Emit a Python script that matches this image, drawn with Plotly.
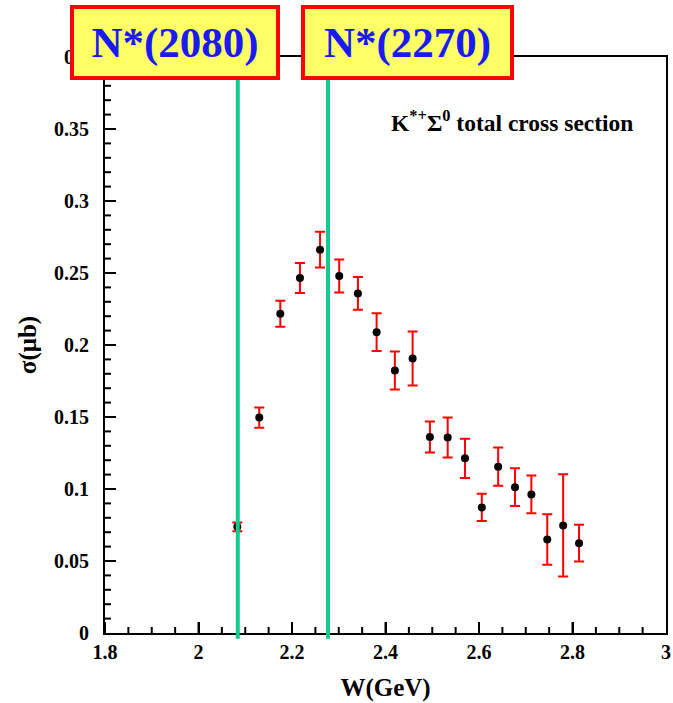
import plotly.graph_objects as go

# Data
W = [2.083, 2.130, 2.175, 2.217, 2.260, 2.301, 2.341, 2.381, 2.420, 2.458,
     2.495, 2.533, 2.570, 2.606, 2.641, 2.677, 2.712, 2.746, 2.780, 2.814]
sigma = [0.0737, 0.1496, 0.2217, 0.2465, 0.2662, 0.2479, 0.2358, 0.2089, 0.1823, 0.1906,
         0.1361, 0.1357, 0.1213, 0.0872, 0.1155, 0.1013, 0.0962, 0.0649, 0.0747, 0.0624]
err = [0.003, 0.007, 0.009, 0.0104, 0.0124, 0.0115, 0.0114, 0.0131, 0.0132, 0.0187,
       0.0108, 0.0139, 0.0136, 0.0095, 0.0133, 0.0131, 0.0131, 0.0175, 0.0355, 0.0128]

resonances = [2.084, 2.277]
resonance_labels = ["N*(2080)", "N*(2270)"]

x_range = [1.8, 3.0]
y_range = [0, 0.4]

# tick positions (major / minor) for the two axes
x_major = [1.8, 2.0, 2.2, 2.4, 2.6, 2.8]
x_minor = [round(1.8 + 0.05 * i, 2) for i in range(1, 24) if i % 4]
y_major = [0.05, 0.1, 0.15, 0.2, 0.25, 0.3, 0.35]
y_minor = [round(0.01 * i, 2) for i in range(1, 40) if i % 5]

SERIF = "Liberation Serif, Times New Roman, serif"
NBSP = "\u00a0"

fig = go.Figure()
fig.add_trace(go.Scatter(
    x=W, y=sigma, mode="markers",
    marker=dict(color="black", size=8),
    error_y=dict(type="data", array=err, color="red", thickness=2, width=5),
    showlegend=False,
))

# inside tick marks, anchored to the axes, lengths in pixels
for vals, length in ((x_major, 11), (x_minor, 6)):
    for v in vals:
        fig.add_shape(type="line", xref="x", yref="paper", ysizemode="pixel", yanchor=0,
                      x0=v, x1=v, y0=0, y1=length, line=dict(color="black", width=2),
                      layer="above")
for vals, length in ((y_major, 11), (y_minor, 6)):
    for v in vals:
        fig.add_shape(type="line", xref="paper", yref="y", xsizemode="pixel", xanchor=0,
                      y0=v, y1=v, x0=0, x1=length, line=dict(color="black", width=2),
                      layer="above")

for xv in resonances:
    fig.add_shape(type="line", xref="x", yref="paper", x0=xv, x1=xv, y0=-0.01, y1=1.03,
                  line=dict(color="#14C98E", width=4), layer="above")

box_centers = [0.1247, 0.5387]
box_widths = [202, 205]
for xc, bw, lab in zip(box_centers, box_widths, resonance_labels):
    fig.add_annotation(xref="paper", yref="paper", x=xc, y=1.026,
                       xanchor="center", yanchor="middle", showarrow=False,
                       text=lab, width=bw, height=67,
                       bgcolor="#FFFF66", bordercolor="#FF0000", borderwidth=4, borderpad=0,
                       font=dict(family=SERIF, size=43, color="#1A1AF5", weight="bold"))

fig.add_annotation(xref="paper", yref="paper", x=0.7257, y=0.889,
                   xanchor="center", yanchor="middle", showarrow=False,
                   text="K<sup>*+</sup>Σ<sup>0</sup> total cross section",
                   font=dict(family=SERIF, size=23.5, color="black", weight="bold"))

axis_common = dict(showline=True, linecolor="black", linewidth=2, mirror=True,
                   showgrid=False, zeroline=False, ticks="inside", ticklen=11,
                   tickcolor="black", tickwidth=2, tickmode="linear", automargin=False,
                   tickfont=dict(family=SERIF, size=20, color="black", weight="bold"))

fig.update_layout(
    xaxis=dict(range=x_range, tick0=1.8, dtick=0.2,
               title=dict(text="W(GeV)", standoff=16,
                          font=dict(family=SERIF, size=25, color="black", weight="bold")),
               **axis_common),
    yaxis=dict(range=y_range, tick0=0, dtick=0.05, ticksuffix=NBSP * 2,
               title=dict(text="σ(μb)", standoff=10,
                          font=dict(family=SERIF, size=25, color="black", weight="bold")),
               **axis_common),
    width=673, height=703, paper_bgcolor="white", plot_bgcolor="white",
    margin=dict(l=105, r=7, t=57, b=70),
)

# Remove the default 8px page margin so the figure fills the window exactly.
fig.write_html("out.html", config={"displayModeBar": False},
               post_script="document.body.style.margin='0';document.body.style.overflow='hidden';")
